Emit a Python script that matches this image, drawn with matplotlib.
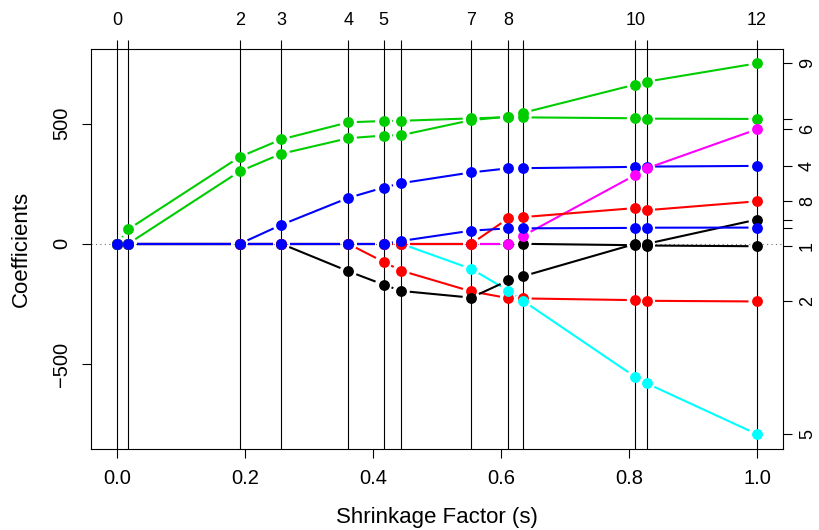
import numpy as np
import matplotlib
matplotlib.use("Agg")
import matplotlib.pyplot as plt
from matplotlib.collections import LineCollection

plt.rcParams['font.family'] = ['Liberation Sans', 'DejaVu Sans']

# lasso path coefficients, one list per variable, one entry per step (0..12)
age = [0, 0, 0, 0, 0, 0, 0, 0, 0, 0, -5.72, -7.01, -10.01]
sex = [0, 0, 0, 0, 0, -74.92, -111.98, -197.76, -226.13, -227.18, -234.40, -237.10, -239.82]
bmi = [0, 60.12, 361.89, 434.76, 505.66, 511.35, 512.04, 522.26, 526.86, 526.39, 522.65, 521.08, 519.84]
bp = [0, 0, 0, 79.24, 191.27, 234.15, 252.53, 297.16, 314.39, 314.95, 320.34, 321.55, 324.39]
s1 = [0, 0, 0, 0, 0, 0, 0, -103.95, -195.11, -237.34, -554.27, -580.44, -792.18]
s2 = [0, 0, 0, 0, 0, 0, 0, 0, 0, 33.63, 286.74, 313.86, 476.75]
s3 = [0, 0, 0, 0, -114.10, -169.71, -196.05, -223.93, -152.48, -134.60, 0, 0, 101.04]
s4 = [0, 0, 0, 0, 0, 0, 0, 0, 106.34, 111.38, 148.90, 139.86, 177.06]
s5 = [0, 0, 301.78, 374.92, 439.66, 450.67, 452.39, 514.75, 529.92, 545.48, 663.03, 674.94, 751.28]
s6 = [0, 0, 0, 0, 0, 0, 12.08, 54.77, 64.49, 64.61, 66.33, 67.18, 67.63]

steps = list(range(13))
step_labels_shown = [0, 2, 3, 4, 5, 7, 8, 10, 12]
var_labels_shown = [9, 6, 4, 8, 1, 2, 5]

coefs = np.array([age, sex, bmi, bp, s1, s2, s3, s4, s5, s6]).T
palette = ['black', '#FF0000', '#00CD00', '#0000FF', '#00FFFF', '#FF00FF']

# shrinkage factor: L1 norm relative to the full least squares fit
l1 = np.abs(coefs).sum(axis=1)
s = l1 / l1[-1]

fig = plt.figure(figsize=(8.19, 5.30), dpi=100)
ax = fig.add_axes([91.4 / 819, 81 / 530, (782.6 - 91.4) / 819, (449 - 48.5) / 530])

ypad = 0.04 * (coefs.max() - coefs.min())
ax.set_xlim(-0.04, 1.04)
ax.set_ylim(coefs.min() - ypad, coefs.max() + ypad)

ax.axhline(0, color='0.45', lw=0.8, ls=(0, (1, 3)), zorder=1)
for x in s:
    ax.axvline(x, color='black', lw=0.8, zorder=2)


def gapped_segments(xs, ys, gap):
    # type="b" style: line pieces stop short of each point
    pts = ax.transData.transform(np.column_stack([xs, ys]))
    inv = ax.transData.inverted()
    segs = []
    for p0, p1 in zip(pts[:-1], pts[1:]):
        d = p1 - p0
        length = np.hypot(*d)
        if length <= 2 * gap:
            continue
        u = d / length
        segs.append(inv.transform([p0 + u * gap, p1 - u * gap]))
    return segs


for j in range(coefs.shape[1]):
    col = palette[j % len(palette)]
    lc = LineCollection(gapped_segments(s, coefs[:, j], 8.5), colors=col,
                        linewidths=1.5, zorder=3 + 2 * j, capstyle='butt')
    ax.add_collection(lc)
    ax.plot(s, coefs[:, j], 'o', color=col, ms=7.8, mec='none', zorder=4 + 2 * j)

for sp in ax.spines.values():
    sp.set_linewidth(0.8)

# bottom and left axes
ax.set_xticks([0.0, 0.2, 0.4, 0.6, 0.8, 1.0])
ax.set_xticklabels(['0.0', '0.2', '0.4', '0.6', '0.8', '1.0'])
ax.set_yticks([-500, 0, 500])
ax.set_yticklabels(['\u2212500', '0', '500'], rotation=90, va='center', ha='center')
ax.tick_params(axis='both', direction='out', length=6.5, width=0.8, labelsize=14.5)
ax.tick_params(axis='x', pad=15)
ax.tick_params(axis='y', pad=15)
for lab in ax.get_xticklabels():
    lab.set_va('center')

# top axis: step numbers
axt = ax.twiny()
axt.set_xlim(ax.get_xlim())
axt.set_xticks(s)
axt.set_xticklabels([str(k) if k in step_labels_shown else '' for k in steps])
axt.tick_params(axis='x', direction='out', length=6.5, width=0.8, labelsize=13, pad=14)
for lab in axt.get_xticklabels():
    lab.set_va('center')

# right axis: variable numbers at final coefficients
axr = ax.twinx()
axr.set_ylim(ax.get_ylim())
final = coefs[-1]
axr.set_yticks(final)
axr.set_yticklabels([str(k + 1) if (k + 1) in var_labels_shown else '' for k in range(len(final))],
                    rotation=90, va='center', ha='center')
axr.tick_params(axis='y', direction='out', length=6.5, width=0.8, labelsize=13, pad=11.5)
for a in (axt, axr):
    for sp in a.spines.values():
        sp.set_visible(False)

fig.text(21 / 819, 1 - 248.5 / 530, 'Coefficients', rotation=90, ha='center', va='center', fontsize=16)
fig.text(437 / 819, 1 - 517 / 530, 'Shrinkage Factor (s)', ha='center', va='center', fontsize=16)

fig.savefig('out.png', dpi=100)
